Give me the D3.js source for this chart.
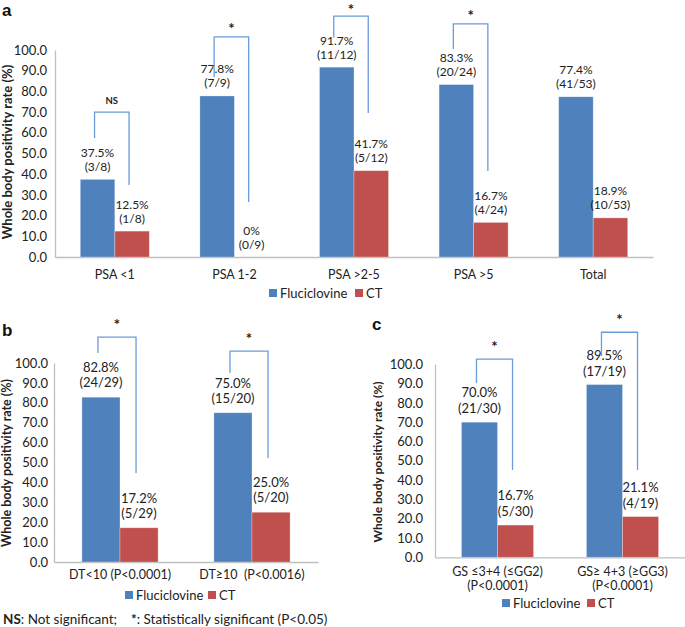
<!DOCTYPE html>
<html><head><meta charset="utf-8">
<script src="https://cdn.jsdelivr.net/npm/d3@7"></script>
<style>
body{margin:0;background:#fff;}
svg{display:block;font-family:Lato,"Open Sans",sans-serif;}
</style></head>
<body><svg id="c" width="685" height="627"></svg>
<script>
// ---------- DATA ----------
const series = ["Fluciclovine", "CT"];
const yTicks = [0,10,20,30,40,50,60,70,80,90,100];

const catsA = ["PSA <1","PSA 1-2","PSA >2-5","PSA >5","Total"];
const fluA = [37.5,77.8,91.7,83.3,77.4];
const ctA  = [12.5,0,41.7,16.7,18.9];
const fluPctA = ["37.5%","77.8%","91.7%","83.3%","77.4%"];
const ctPctA  = ["12.5%","0%","41.7%","16.7%","18.9%"];
const fluFracA = ["(3/8)","(7/9)","(11/12)","(20/24)","(41/53)"];
const ctFracA  = ["(1/8)","(0/9)","(5/12)","(4/24)","(10/53)"];
const sigA = ["NS","*","*","*",null];
const brTopA = [70,106.3,116.4,112.6,null];
const brLeftA = [57.5,87,106,100.5,null];
const brRightA = [34.8,26.6,69.6,41.5,null];

const catsB = [["DT<10 (P<0.0001)"],["DT\u226510  (P<0.0016)"]];
const fluB = [82.8,75.0];
const ctB  = [17.2,25.0];
const fluPctB = ["82.8%","75.0%"];
const ctPctB  = ["17.2%","25.0%"];
const fluFracB = ["(24/29)","(15/20)"];
const ctFracB  = ["(5/29)","(5/20)"];
const sigB = ["*","*"];
const brTopB = [113,106];
const brLeftB = [105,95];
const brRightB = [44.7,52.3];

const catsC = [["GS \u22643+4 (\u2264GG2)","(P<0.0001)"],["GS\u2265 4+3 (\u2265GG3)","(P<0.0001)"]];
const fluC = [70.0,89.5];
const ctC  = [16.7,21.1];
const fluPctC = ["70.0%","89.5%"];
const ctPctC  = ["16.7%","21.1%"];
const fluFracC = ["(21/30)","(17/19)"];
const ctFracC  = ["(5/30)","(4/19)"];
const sigC = ["*","*"];
const brTopC = [102.7,116.6];
const brLeftC = [90.3,104.3];
const brRightC = [45.2,45.2];

// ---------- STYLE ----------
const BLUE="#4f81bd", RED="#c0504d", BR="#6a9cdc", AX="#bfbfbf", TXT="#222";
const svg = d3.select("#c");

function panel(o){
  const g = svg.append("g");
  const cats = o.cats.map((c,i)=>"c"+i);
  const x = d3.scaleBand().domain(cats).range([o.x0,o.x1]);
  const inner = d3.scaleBand().domain(series).range([0,x.bandwidth()]).paddingInner(0).paddingOuter(0.733);
  const y = d3.scaleLinear().domain([0,100]).range([o.yb,o.yt]);

  const ya = g.append("g").attr("transform",`translate(${o.x0},0)`)
    .call(d3.axisLeft(y).tickValues(yTicks).tickFormat(d=>d.toFixed(1)).tickSize(0).tickPadding(o.tickPad));
  ya.select(".domain").attr("stroke",AX).attr("stroke-width",1.3);
  ya.selectAll("text").attr("font-size",o.tickFont).attr("fill",TXT).attr("font-family","Lato,sans-serif");
  const xa = g.append("g").attr("transform",`translate(0,${o.yb})`)
    .call(d3.axisBottom(x).tickSize(0).tickFormat(""));
  xa.select(".domain").attr("stroke",AX).attr("stroke-width",1.3);

  const vals = [o.flu,o.ct];
  series.forEach((s,si)=>{
    g.selectAll(null).data(cats).enter().append("rect")
      .attr("x",c=>x(c)+inner(s))
      .attr("width",inner.bandwidth())
      .attr("y",(c,i)=>y(vals[si][i]))
      .attr("height",(c,i)=>o.yb-y(vals[si][i]))
      .attr("fill",si===0?BLUE:RED)
      .attr("stroke","#fff").attr("stroke-opacity",0.35).attr("stroke-width",0.8);
  });

  const pct=[o.fluPct,o.ctPct], frac=[o.fluFrac,o.ctFrac];
  series.forEach((s,si)=>{
    cats.forEach((c,i)=>{
      const cx = x(c)+inner(s)+inner.bandwidth()/2;
      const top = y(vals[si][i]);
      g.append("text").attr("x",cx).attr("y",top-o.lblGap).attr("text-anchor","middle")
        .attr("font-size",o.lblFont).attr("fill",TXT).text(frac[si][i]);
      g.append("text").attr("x",cx).attr("y",top-o.lblGap-o.lblLine).attr("text-anchor","middle")
        .attr("font-size",o.lblFont).attr("fill",TXT).text(pct[si][i]);
    });
  });

  cats.forEach((c,i)=>{
    if(o.sig[i]==null) return;
    const lx = x(c)+inner("Fluciclovine")+inner.bandwidth()/2-3;
    const rx = x(c)+inner("CT")+inner.bandwidth()/2-3;
    const ty = y(o.brTop[i]);
    g.append("path").attr("d",`M${lx},${y(o.brLeft[i])}V${ty}H${rx}V${y(o.brRight[i])}`)
      .attr("fill","none").attr("stroke",BR).attr("stroke-width",1.3);
    const ns = o.sig[i]==="NS";
    const sy = Math.max(ty-(ns?o.nsOff:o.starOff), 14.5);
    g.append("text").attr("x",(lx+rx)/2).attr("y",sy)
      .attr("text-anchor","middle").attr("font-weight","bold")
      .attr("font-size",ns?9.5:15).attr("fill",TXT).text(o.sig[i]);
  });

  cats.forEach((c,i)=>{
    const lines = Array.isArray(o.cats[i])?o.cats[i]:[o.cats[i]];
    lines.forEach((ln,li)=>{
      g.append("text").attr("x",x(c)+x.bandwidth()/2).attr("y",o.yb+o.catOff+li*o.catLine)
        .attr("text-anchor","middle").attr("font-size",o.catFont).attr("fill",TXT)
        .style("white-space","pre").text(ln);
    });
  });

  g.append("text").attr("transform",`translate(${o.titleX},${o.titleY}) rotate(-90)`)
    .attr("text-anchor","middle").attr("font-weight","bold").attr("font-size",o.titleFont)
    .attr("fill",TXT).text("Whole body positivity rate (%)");

  g.append("text").attr("x",o.letX).attr("y",o.letY).attr("font-weight","bold")
    .attr("font-size",17).attr("font-family","Liberation Sans,Arial,sans-serif").attr("fill","#111").text(o.letter);

  const lg = g.append("g");
  series.forEach((s,si)=>{
    const lx = o.legX[si];
    lg.append("rect").attr("x",lx).attr("y",o.legY-4).attr("width",8).attr("height",8).attr("fill",si===0?BLUE:RED);
    lg.append("text").attr("x",lx+11).attr("y",o.legY).attr("dy","0.35em")
      .attr("font-size",o.legFont).attr("fill",TXT).text(s);
  });
}

panel({cats:catsA,flu:fluA,ct:ctA,fluPct:fluPctA,ctPct:ctPctA,fluFrac:fluFracA,ctFrac:ctFracA,
  sig:sigA,brTop:brTopA,brLeft:brLeftA,brRight:brRightA,
  x0:55,x1:653,yt:50,yb:257,tickPad:8,tickFont:13,lblFont:12,lblGap:8.5,lblLine:14,
  starOff:3,nsOff:8,catOff:22,catLine:14,catFont:12.5,titleX:12,titleY:152,titleFont:13,
  letX:2,letY:16,letter:"a",legX:[269,355],legY:293,legFont:13});

panel({cats:catsB,flu:fluB,ct:ctB,fluPct:fluPctB,ctPct:ctPctB,fluFrac:fluFracB,ctFrac:ctFracB,
  sig:sigB,brTop:brTopB,brLeft:brLeftB,brRight:brRightB,
  x0:54,x1:318,yt:363,yb:562,tickPad:6,tickFont:13,lblFont:13,lblGap:10,lblLine:15,
  starOff:7.5,nsOff:8,catOff:17,catLine:14,catFont:12.5,titleX:11,titleY:463,titleFont:12.5,
  letX:2,letY:336,letter:"b",legX:[125,208],legY:595,legFont:13});

panel({cats:catsC,flu:fluC,ct:ctC,fluPct:fluPctC,ctPct:ctPctC,fluFrac:fluFracC,ctFrac:ctFracC,
  sig:sigC,brTop:brTopC,brLeft:brLeftC,brRight:brRightC,
  x0:435,x1:685,yt:364.3,yb:557.3,tickPad:12,tickFont:13,lblFont:13,lblGap:9,lblLine:16,
  starOff:7.5,nsOff:8,catOff:18.5,catLine:14.5,catFont:12.5,titleX:382,titleY:462,titleFont:12,
  letX:372,letY:330,letter:"c",legX:[502,587],legY:603,legFont:13});

const fn = svg.append("text").attr("x",3).attr("y",624).attr("font-size",13.5).attr("fill",TXT)
  .style("white-space","pre");
fn.append("tspan").attr("font-weight","bold").text("NS");
fn.append("tspan").text(": Not significant;    ");
fn.append("tspan").attr("font-weight","bold").text("*");
fn.append("tspan").text(": Statistically significant (P<0.05)");
</script></body></html>
